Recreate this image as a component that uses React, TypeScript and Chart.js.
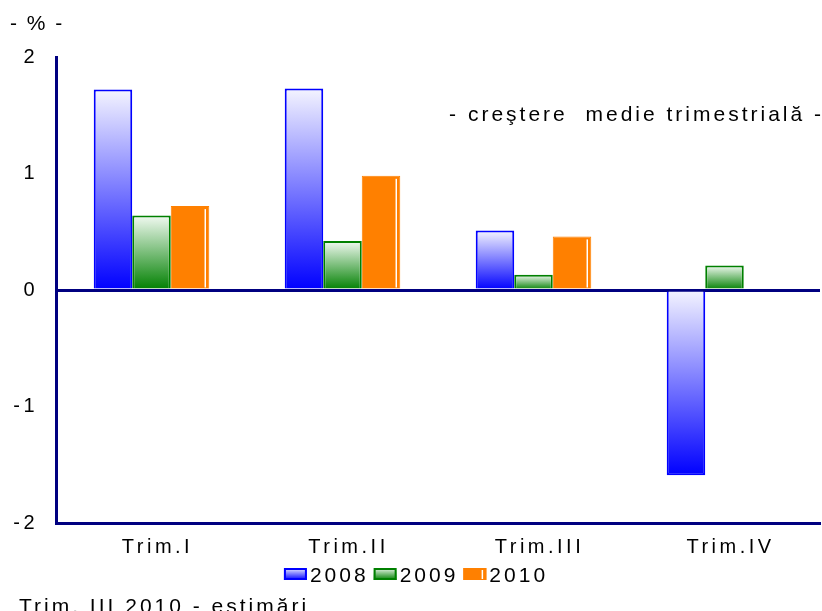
import React, { useEffect, useRef } from "react";
import { Chart, registerables } from "chart.js";

Chart.register(...registerables);

const categories = ["Trim.I", "Trim.II", "Trim.III", "Trim.IV"];
const seriesLabels = ["2008", "2009", "2010"];
const values2008 = [1.72, 1.73, 0.51, -1.59];
const values2009 = [0.64, 0.42, 0.13, 0.21];
const values2010: (number | null)[] = [0.72, 0.98, 0.46, null];
const yTicks = [-2, -1, 0, 1, 2];

const unitLabel = "- % -";
const subtitle = "- creştere  medie trimestrială -";
const footnote = "Trim. III 2010 - estimări";

const FONT = "'Liberation Sans', Arial, sans-serif";

function gradientFill(light: string, dark: string) {
  return (c: any) => {
    const chart = c.chart;
    const ys = chart.scales?.y;
    if (!ys || c.raw == null || !chart.chartArea) return dark;
    const a = ys.getPixelForValue(c.raw);
    const b = ys.getPixelForValue(0);
    const top = Math.min(a, b);
    const bot = Math.max(a, b);
    if (bot - top < 1) return dark;
    const g = chart.ctx.createLinearGradient(0, top, 0, bot);
    g.addColorStop(0, light);
    g.addColorStop(1, dark);
    return g;
  };
}

export default function App() {
  const ref = useRef<HTMLCanvasElement | null>(null);

  useEffect(() => {
    document.body.style.margin = "0";
    const canvas = ref.current;
    if (!canvas) return;

    const textPlugin = {
      id: "texts",
      beforeDraw(chart: any) {
        chart.ctx.letterSpacing = "3.5px";
      },
      beforeDatasetsDraw(chart: any) {
        chart.ctx.letterSpacing = "1px";
      },
      afterDatasetsDraw(chart: any) {
        const ctx = chart.ctx;
        const meta = chart.getDatasetMeta(2);
        ctx.save();
        ctx.strokeStyle = "#ffffff";
        ctx.lineWidth = 1.5;
        meta.data.forEach((el: any, i: number) => {
          if (values2010[i] == null) return;
          const p = el.getProps(["x", "y", "base", "width"], true);
          const lx = p.x + p.width / 2 - 4;
          ctx.beginPath();
          ctx.moveTo(lx, p.y + 3);
          ctx.lineTo(lx, p.base - 1);
          ctx.stroke();
        });
        ctx.restore();
      },
      afterDraw(chart: any) {
        const ctx = chart.ctx;
        ctx.save();
        ctx.letterSpacing = "2px";
        ctx.fillStyle = "#000";
        ctx.font = `21px ${FONT}`;
        ctx.textBaseline = "alphabetic";
        ctx.textAlign = "left";
        ctx.fillText(unitLabel, 10, 30);
        ctx.letterSpacing = "3px";
        ctx.textAlign = "right";
        ctx.fillText(subtitle, 824, 121);
        ctx.textAlign = "left";
        ctx.fillText(footnote, 19, 613);

        // legend
        const items = chart.data.datasets.map((d: any, i: number) => ({
          label: d.label,
          i,
        }));
        const boxW = 23;
        const boxH = 12;
        const gapBoxText = 3;
        const widths = items.map(
          (it: any) => boxW + gapBoxText + ctx.measureText(it.label).width
        );
        const gap = 5;
        const total =
          widths.reduce((a: number, b: number) => a + b, 0) + gap * (items.length - 1);
        let x = 416 - total / 2;
        const boxTop = 568;
        items.forEach((it: any, k: number) => {
          const ds = chart.data.datasets[it.i];
          const border = ds.borderColor;
          let fill: any;
          if (it.i === 0 || it.i === 1) {
            const g = ctx.createLinearGradient(0, boxTop, 0, boxTop + boxH);
            const light = it.i === 0 ? "#f0f0ff" : "#eef8ee";
            g.addColorStop(0, light);
            g.addColorStop(1, border);
            fill = g;
          } else {
            fill = border;
          }
          ctx.fillStyle = fill;
          ctx.fillRect(x, boxTop, boxW, boxH);
          ctx.strokeStyle = border;
          ctx.lineWidth = 2;
          ctx.strokeRect(x + 1, boxTop + 1, boxW - 2, boxH - 2);
          if (it.i === 2) {
            ctx.strokeStyle = "#fff";
            ctx.lineWidth = 1.5;
            ctx.beginPath();
            ctx.moveTo(x + boxW - 4, boxTop + 2);
            ctx.lineTo(x + boxW - 4, boxTop + boxH - 1);
            ctx.stroke();
          }
          ctx.fillStyle = "#000";
          ctx.textAlign = "left";
          ctx.fillText(it.label, x + boxW + gapBoxText, 582);
          x += widths[k] + gap;
        });
        ctx.restore();
      },
    };

    const chart = new Chart(canvas, {
      type: "bar",
      data: {
        labels: categories,
        datasets: [
          {
            label: seriesLabels[0],
            data: values2008,
            backgroundColor: gradientFill("#f4f4ff", "#0000ff"),
            borderColor: "#0000ff",
            borderWidth: 2,
          },
          {
            label: seriesLabels[1],
            data: values2009,
            backgroundColor: gradientFill("#f2faf2", "#008000"),
            borderColor: "#008000",
            borderWidth: 2,
          },
          {
            label: seriesLabels[2],
            data: values2010,
            backgroundColor: "#ff8000",
            borderColor: "#ff8000",
            borderWidth: 1,
          },
        ],
      },
      options: {
        responsive: false,
        animation: false,
        devicePixelRatio: 1,
        layout: { padding: { top: 57, right: 2, bottom: 0, left: 0 } },
        plugins: {
          legend: { display: false },
          tooltip: { enabled: false },
          title: { display: false },
        },
        datasets: {
          bar: { categoryPercentage: 0.605, barPercentage: 1 },
        },
        scales: {
          x: {
            grid: { display: false, drawTicks: false },
            border: { display: true, color: "#000080", width: 3 },
            ticks: {
              color: "#000",
              font: { family: FONT, size: 20 },
              padding: 12,
              labelOffset: 6,
            },
            afterFit: (s: any) => {
              s.height = 88;
            },
          },
          y: {
            min: -2,
            max: 2,
            z: 1,
            afterBuildTicks: (s: any) => {
              s.ticks = yTicks.map((v) => ({ value: v }));
            },
            grid: {
              drawTicks: false,
              color: (c: any) =>
                c.tick && c.tick.value === 0 ? "#000080" : "rgba(0,0,0,0)",
              lineWidth: 3,
            },
            border: { display: true, color: "#000080", width: 3 },
            ticks: {
              color: "#000",
              font: { family: FONT, size: 20 },
              padding: 18,
              callback: (v: any) => String(v),
            },
            afterFit: (s: any) => {
              s.width = 56;
            },
          },
        },
      },
      plugins: [textPlugin],
    });

    return () => chart.destroy();
  }, []);

  return <canvas ref={ref} width={822} height={611} style={{ display: "block" }} />;
}
